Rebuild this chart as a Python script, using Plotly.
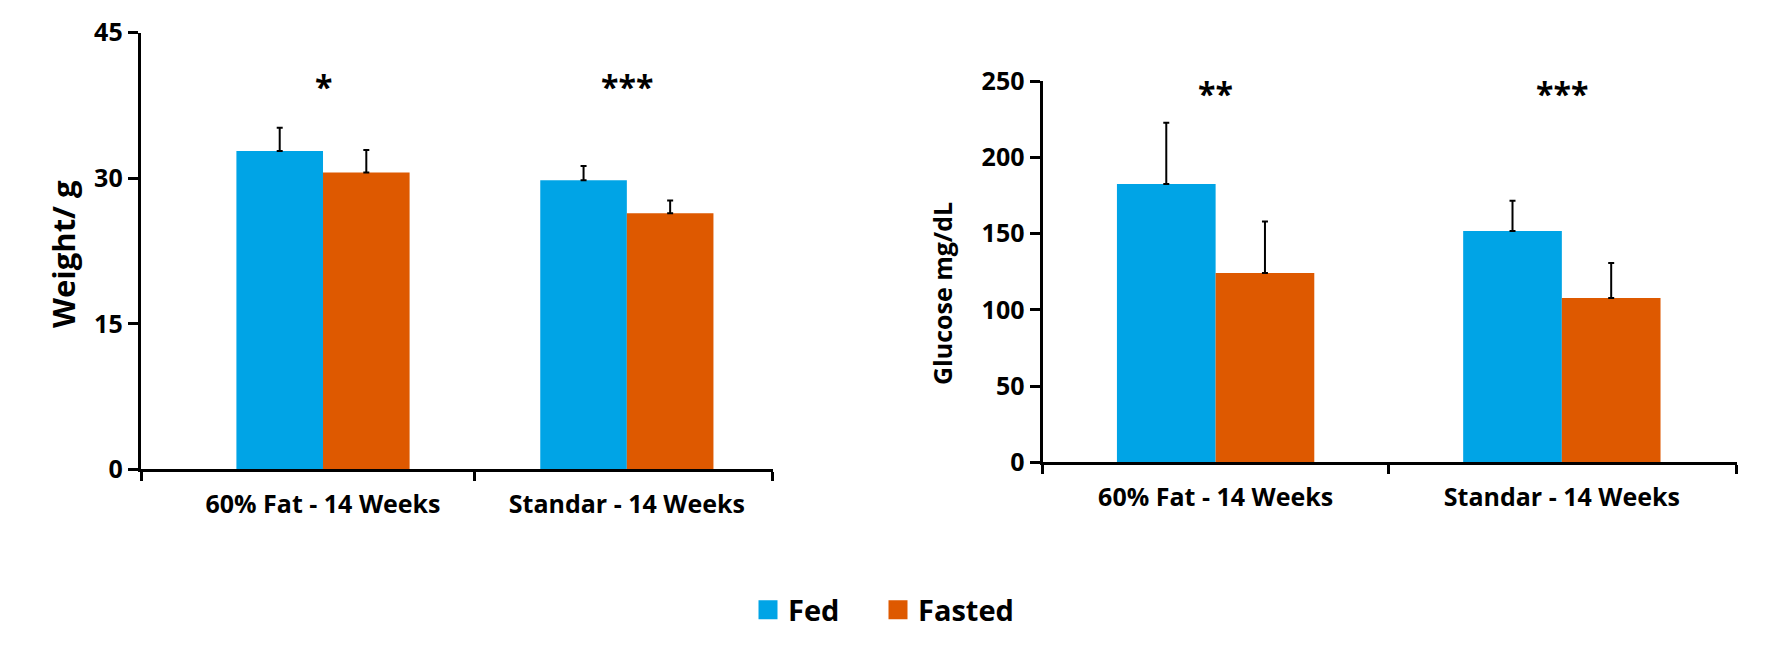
import plotly.graph_objects as go

categories = ["60% Fat - 14 Weeks", "Standar - 14 Weeks"]
series_names = ["Fed", "Fasted"]

weight_fed = [32.8, 29.8]
weight_fed_err = [2.4, 1.45]
weight_fasted = [30.6, 26.4]
weight_fasted_err = [2.3, 1.3]

glucose_fed = [182.5, 151.7]
glucose_fed_err = [40.2, 19.8]
glucose_fasted = [124.1, 107.7]
glucose_fasted_err = [33.7, 23.0]

weight_sig = ["*", "***"]
glucose_sig = ["**", "***"]

weight_ticks = [0, 15, 30, 45]
glucose_ticks = [0, 50, 100, 150, 200, 250]

BLUE = "#00A4E6"
ORANGE = "#DE5900"
FONT = "Open Sans"

# page has an 8px body margin; figure sized to fit the 1776x646 window
OFF = 8
W, H = 1776 - 2 * OFF, 646 - 2 * OFF


def px(x):
    return (x - OFF) / W


def py(y):
    return 1 - (y - OFF) / H


xpos = list(range(len(categories)))

fig = go.Figure()


def add_bars(xa, ya, fed, fed_err, fasted, fasted_err):
    for name, vals, errs, col in [("Fed", fed, fed_err, BLUE), ("Fasted", fasted, fasted_err, ORANGE)]:
        fig.add_trace(go.Bar(
            x=xpos, y=vals, name=name, marker=dict(color=col, line=dict(width=0)),
            error_y=dict(type="data", symmetric=False, array=errs, arrayminus=[0] * len(errs),
                         color="black", thickness=2, width=3),
            xaxis=xa, yaxis=ya, showlegend=False, offsetgroup=name,
        ))


add_bars("x", "y", weight_fed, weight_fed_err, weight_fasted, weight_fasted_err)
add_bars("x2", "y2", glucose_fed, glucose_fed_err, glucose_fasted, glucose_fasted_err)

# legend entries (two legends for exact placement)
for name, col, lg in [("Fed", BLUE, "legend"), ("Fasted", ORANGE, "legend2")]:
    fig.add_trace(go.Scatter(
        x=[None], y=[None], mode="markers", name=name, legend=lg,
        marker=dict(symbol="square", size=16, color=col, line=dict(color=col, width=3)),
        xaxis="x", yaxis="y", showlegend=True,
    ))

tickfont_y = dict(family=FONT, size=25, color="black", weight="bold")
catfont = dict(family=FONT, size=25, color="black", weight="bold")


def xaxis_cfg(domain, rng, anchor):
    return dict(
        domain=domain, range=rng, anchor=anchor, automargin=False,
        tickmode="array", tickvals=xpos, ticktext=categories, ticks="",
        tickfont=catfont, ticklabelstandoff=11,
        showline=True, linewidth=3, linecolor="black",
        showgrid=False, zeroline=False, fixedrange=True,
        minor=dict(tickmode="array", tickvals=[rng[0] + 0.001, 0.5, rng[1] - 0.001],
                   ticks="outside", ticklen=9, tickwidth=3, tickcolor="black", showgrid=False),
    )


def yaxis_cfg(domain, rng, tv, anchor):
    return dict(
        domain=domain, range=rng, anchor=anchor, automargin=False,
        tickmode="array", tickvals=tv, ticks="outside", ticklen=10, tickwidth=3,
        tickcolor="black", tickfont=tickfont_y,
        showline=True, linewidth=3, linecolor="black",
        showgrid=False, zeroline=False, fixedrange=True,
    )


annotations = []
for i, s in enumerate(weight_sig):
    annotations.append(dict(x=xpos[i], y=39.5, xref="x", yref="y", text=s, showarrow=False,
                            font=dict(family=FONT, size=32, color="black", weight="bold"),
                            xanchor="center", yanchor="middle"))
for i, s in enumerate(glucose_sig):
    annotations.append(dict(x=xpos[i], y=242, xref="x2", yref="y2", text=s, showarrow=False,
                            font=dict(family=FONT, size=32, color="black", weight="bold"),
                            xanchor="center", yanchor="middle"))
annotations.append(dict(x=px(63), y=py(254), xref="paper", yref="paper", text="Weight/ g",
                        textangle=-90, showarrow=False, xanchor="center", yanchor="middle",
                        font=dict(family=FONT, size=31, color="black", weight="bold")))
annotations.append(dict(x=px(942), y=py(293), xref="paper", yref="paper", text="Glucose mg/dL",
                        textangle=-90, showarrow=False, xanchor="center", yanchor="middle",
                        font=dict(family=FONT, size=25, color="black", weight="bold")))

legend_common = dict(orientation="h", xanchor="left", yanchor="middle", y=py(610),
                     font=dict(family=FONT, size=29, color="black", weight="bold"),
                     bgcolor="rgba(0,0,0,0)", borderwidth=0)

fig.update_layout(
    width=W, height=H,
    margin=dict(l=0, r=0, t=0, b=0, autoexpand=False),
    paper_bgcolor="white", plot_bgcolor="white",
    barmode="group", bargap=0.43, bargroupgap=0,
    xaxis=xaxis_cfg([px(140.7), px(772.7)], [-0.6, 1.48], "y"),
    yaxis=yaxis_cfg([py(469.3), py(32.7)], [0, 45], weight_ticks, "x"),
    xaxis2=xaxis_cfg([px(1042.5), px(1736.7)], [-0.5, 1.505], "y2"),
    yaxis2=yaxis_cfg([py(462.3), py(81)], [0, 250], glucose_ticks, "x2"),
    legend=dict(x=px(748), **legend_common),
    legend2=dict(x=px(878), **legend_common),
    annotations=annotations,
    showlegend=True,
)

fig.write_html("out.html")
